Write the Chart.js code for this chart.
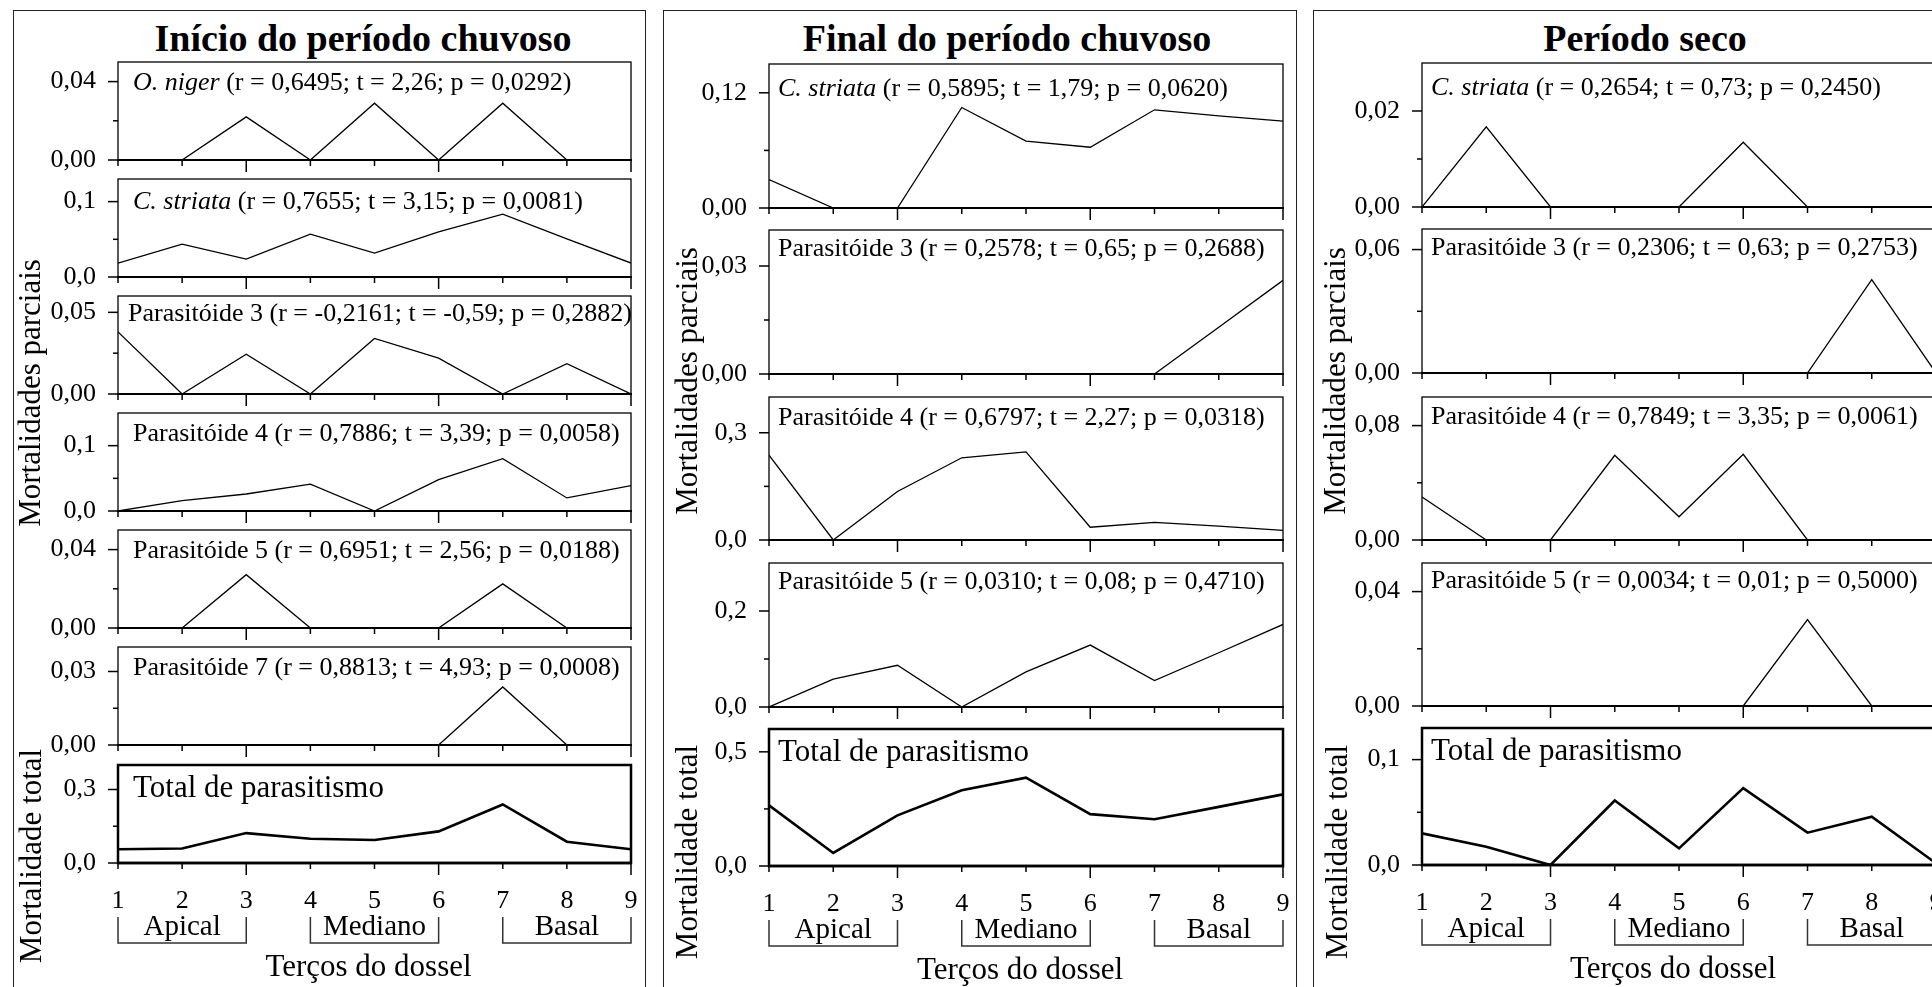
<!DOCTYPE html>
<html><head><meta charset="utf-8">
<script src="https://cdn.jsdelivr.net/npm/chart.js@4.4.1/dist/chart.umd.min.js"></script>
<style>
html,body{margin:0;padding:0;background:#fff;width:1932px;height:987px;overflow:hidden;position:relative;
  font-family:"Liberation Serif","Times New Roman",serif;color:#000}
.box{position:absolute;border:1.5px solid #222;top:10px;height:1000px;box-sizing:border-box}
.t{position:absolute;white-space:nowrap;line-height:1}
canvas{position:absolute}
</style></head><body>
<script>
// Partial and total parasitism along the canopy thirds, three seasons.
const SERIF = "'Liberation Serif', 'Times New Roman', serif";
Chart.defaults.font.family = SERIF; Chart.defaults.color = "#000";

const CANOPY = [1, 2, 3, 4, 5, 6, 7, 8, 9];
const GROUP_NAMES = ["Apical", "Mediano", "Basal"];
const GROUP_FROM = [1, 4, 7], GROUP_TO = [3, 6, 9];

// Início do período chuvoso
const INI_ONIGER   = [0, 0, 0.022, 0, 0.029, 0, 0.029, 0, 0];
const INI_CSTRIATA = [0.0185, 0.0436, 0.0238, 0.0568, 0.0317, 0.060, 0.0833, 0.0507, 0.0185];
const INI_P3       = [0.038, 0, 0.0244, 0, 0.034, 0.022, 0, 0.0185, 0];
const INI_P4       = [0, 0.016, 0.026, 0.041, 0, 0.048, 0.080, 0.020, 0.039];
const INI_P5       = [0, 0, 0.0272, 0, 0, 0, 0.0225, 0, 0];
const INI_P7       = [0, 0, 0, 0, 0, 0, 0.0237, 0, 0];
const INI_TOTAL    = [0.056, 0.059, 0.122, 0.099, 0.094, 0.129, 0.239, 0.087, 0.056];
// Final do período chuvoso
const FIN_CSTRIATA = [0.0296, 0, 0, 0.1047, 0.0696, 0.0633, 0.1023, 0.096, 0.0904];
const FIN_P3       = [0, 0, 0, 0, 0, 0, 0, 0.013, 0.026];
const FIN_P4       = [0.2375, 0, 0.1357, 0.23, 0.2467, 0.0356, 0.0494, 0.039, 0.027];
const FIN_P5       = [0, 0.058, 0.087, 0, 0.073, 0.129, 0.055, 0.113, 0.172];
const FIN_TOTAL    = [0.266, 0.057, 0.222, 0.332, 0.387, 0.227, 0.205, 0.259, 0.314];
// Período seco
const SEC_CSTRIATA = [0, 0.0167, 0, 0, 0, 0.0135, 0, 0, 0];
const SEC_P3       = [0, 0, 0, 0, 0, 0, 0, 0.0454, 0];
const SEC_P4       = [0.0301, 0, 0, 0.0592, 0.0162, 0.0599, 0, 0, 0];
const SEC_P5       = [0, 0, 0, 0, 0, 0, 0.0302, 0, 0];
const SEC_TOTAL    = [0.030, 0.0174, 0, 0.0612, 0.0158, 0.0729, 0.0307, 0.0458, 0.0016];

// y axes: max, tick values, tick labels
const INI_YMAX = [0.05, 0.13, 0.06, 0.15, 0.05, 0.04, 0.4];
const INI_YTICKS = [[0, 0.02, 0.04], [0, 0.05, 0.1], [0, 0.025, 0.05], [0, 0.05, 0.1], [0, 0.02, 0.04], [0, 0.015, 0.03], [0, 0.15, 0.3]];
const INI_YLABELS = [["0,00", "", "0,04"], ["0,0", "", "0,1"], ["0,00", "", "0,05"], ["0,0", "", "0,1"], ["0,00", "", "0,04"], ["0,00", "", "0,03"], ["0,0", "", "0,3"]];
const FIN_YMAX = [0.15, 0.04, 0.4, 0.3, 0.6];
const FIN_YTICKS = [[0, 0.06, 0.12], [0, 0.015, 0.03], [0, 0.15, 0.3], [0, 0.1, 0.2], [0, 0.25, 0.5]];
const FIN_YLABELS = [["0,00", "", "0,12"], ["0,00", "", "0,03"], ["0,0", "", "0,3"], ["0,0", "", "0,2"], ["0,0", "", "0,5"]];
const SEC_YMAX = [0.03, 0.07, 0.1, 0.05, 0.13];
const SEC_YTICKS = [[0, 0.01, 0.02], [0, 0.03, 0.06], [0, 0.04, 0.08], [0, 0.02, 0.04], [0, 0.05, 0.1]];
const SEC_YLABELS = [["0,00", "", "0,02"], ["0,00", "", "0,06"], ["0,00", "", "0,08"], ["0,00", "", "0,04"], ["0,0", "", "0,1"]];

// panel captions: [italic part, plain part]
const INI_NOTES = [["O. niger", " (r = 0,6495; t = 2,26; p = 0,0292)"], ["C. striata", " (r = 0,7655; t = 3,15; p = 0,0081)"],
  ["", "Parasitóide 3 (r = -0,2161; t = -0,59; p = 0,2882)"], ["", "Parasitóide 4 (r = 0,7886; t = 3,39; p = 0,0058)"],
  ["", "Parasitóide 5 (r = 0,6951; t = 2,56; p = 0,0188)"], ["", "Parasitóide 7 (r = 0,8813; t = 4,93; p = 0,0008)"],
  ["", "Total de parasitismo"]];
const FIN_NOTES = [["C. striata", " (r = 0,5895; t = 1,79; p = 0,0620)"], ["", "Parasitóide 3 (r = 0,2578; t = 0,65; p = 0,2688)"],
  ["", "Parasitóide 4 (r = 0,6797; t = 2,27; p = 0,0318)"], ["", "Parasitóide 5 (r = 0,0310; t = 0,08; p = 0,4710)"],
  ["", "Total de parasitismo"]];
const SEC_NOTES = [["C. striata", " (r = 0,2654; t = 0,73; p = 0,2450)"], ["", "Parasitóide 3 (r = 0,2306; t = 0,63; p = 0,2753)"],
  ["", "Parasitóide 4 (r = 0,7849; t = 3,35; p = 0,0061)"], ["", "Parasitóide 5 (r = 0,0034; t = 0,01; p = 0,5000)"],
  ["", "Total de parasitismo"]];
const TITLES = ["Início do período chuvoso", "Final do período chuvoso", "Período seco"];

// page geometry (px)
const COLS = [
  {plotL: 118, plotR: 631, boxL: 12.5, boxW: 633, titleX: 363, yLabX: 28.5, totX: 30, parcY: 392.5, totY: 856, noteDX: 15,
   tops: [62, 179, 296, 413, 530, 647, 765], bots: [160, 277, 394, 511, 628, 745, 863], noteDY: [28.5, 31, 25.5, 28.5, 28.5, 28.5, 31.5]},
  {plotL: 769, plotR: 1283, boxL: 663, boxW: 634, titleX: 1007, yLabX: 686, totX: 686, parcY: 381, totY: 852, noteDX: 9,
   tops: [64, 230, 397, 563, 729], bots: [208, 374, 540, 707, 866], noteDY: [32.5, 26.5, 28.5, 26.5, 31.5]},
  {plotL: 1422, plotR: 1936, boxL: 1313, boxW: 800, titleX: 1645, yLabX: 1334, totX: 1336, parcY: 381, totY: 852, noteDX: 9,
   tops: [63, 229, 397, 563, 728], bots: [207, 373, 540, 706, 865], noteDY: [32.5, 26.5, 27.5, 25.5, 31.5]},
];
const SERIES = [[INI_ONIGER, INI_CSTRIATA, INI_P3, INI_P4, INI_P5, INI_P7, INI_TOTAL],
                [FIN_CSTRIATA, FIN_P3, FIN_P4, FIN_P5, FIN_TOTAL],
                [SEC_CSTRIATA, SEC_P3, SEC_P4, SEC_P5, SEC_TOTAL]];
const YMAX = [INI_YMAX, FIN_YMAX, SEC_YMAX], YTICKS = [INI_YTICKS, FIN_YTICKS, SEC_YTICKS];
const YLABELS = [INI_YLABELS, FIN_YLABELS, SEC_YLABELS], NOTES = [INI_NOTES, FIN_NOTES, SEC_NOTES];

function addText(html, x, base, size, st) {
  const d = document.createElement("div"); d.className = "t"; d.innerHTML = html;
  d.style.left = x + "px"; d.style.top = (base - 0.8375 * size) + "px"; d.style.fontSize = size + "px";
  if (st) Object.assign(d.style, st);
  document.body.appendChild(d); return d;
}
function vText(s, cx, cy, size) {
  const d = document.createElement("div"); d.className = "t"; d.textContent = s;
  Object.assign(d.style, {left: cx + "px", top: cy + "px", fontSize: size + "px", transform: "translate(-50%,-50%) rotate(-90deg)"});
  document.body.appendChild(d);
}
const seg = (ctx, x0, y0, x1, y1) => { ctx.beginPath(); ctx.moveTo(x0, y0); ctx.lineTo(x1, y1); ctx.stroke(); };

// box, tick marks and canopy brackets, all placed through the chart scales
const frame = {
  id: "frame",
  afterDraw(chart) {
    const {ctx, chartArea: a, scales: {x, y}} = chart, tot = chart.options.plugins.frame.total;
    ctx.save(); ctx.strokeStyle = "#000";
    ctx.lineWidth = tot ? 2.5 : 1.3;
    ctx.strokeRect(a.left, a.top, a.right - a.left, a.bottom - a.top);
    ctx.lineWidth = tot ? 2.5 : 2; seg(ctx, a.left - 1, a.bottom, a.right + 1, a.bottom);
    ctx.lineWidth = 1.5;
    y.ticks.forEach((t, i) => { const py = y.getPixelForValue(t.value); seg(ctx, a.left - (i % 2 ? 5 : 10), py, a.left, py); });
    x.ticks.forEach(t => { const px = x.getPixelForValue(t.value); seg(ctx, px, a.bottom, px, a.bottom + (t.value % 3 === 0 ? 12 : 6)); });
    if (tot) {
      ctx.strokeStyle = "#333"; ctx.lineWidth = 1.5;
      ctx.font = "29px " + SERIF; ctx.fillStyle = "#000"; ctx.textAlign = "center"; ctx.textBaseline = "alphabetic";
      GROUP_NAMES.forEach((g, k) => {
        const x0 = x.getPixelForValue(GROUP_FROM[k]), x1 = x.getPixelForValue(GROUP_TO[k]);
        const yt = a.bottom + 54, yb = a.bottom + 80;
        ctx.beginPath(); ctx.moveTo(x0, yt); ctx.lineTo(x0, yb); ctx.lineTo(x1, yb); ctx.lineTo(x1, yt); ctx.stroke();
        ctx.fillText(g, (x0 + x1) / 2, a.bottom + 72);
      });
    }
    ctx.restore();
  }
};

function panel(col, k, c) {
  const total = k === SERIES[c].length - 1;
  const top = col.tops[k], bot = col.bots[k];
  const YW = 120, PT = 20, PR = 14, XB = total ? 1000 - bot : 20;
  const W = YW + (col.plotR - col.plotL) + PR, H = PT + (bot - top) + XB;
  const cv = document.createElement("canvas");
  cv.width = W; cv.height = H;
  Object.assign(cv.style, {left: (col.plotL - YW) + "px", top: (top - PT) + "px", width: W + "px", height: H + "px"});
  document.body.appendChild(cv);
  const vals = SERIES[c][k], ticks = YTICKS[c][k], labels = YLABELS[c][k];
  new Chart(cv, {
    type: "line",
    data: {datasets: [{data: CANOPY.map((v, i) => ({x: v, y: vals[i]})), borderColor: "#000",
      borderWidth: total ? 2.6 : 1.3, pointRadius: 0, tension: 0, fill: false}]},
    options: {
      responsive: false, animation: false, devicePixelRatio: 1,
      layout: {padding: {top: PT, right: PR, left: 0, bottom: 0}},
      plugins: {legend: {display: false}, tooltip: {enabled: false}, frame: {total}},
      scales: {
        x: {type: "linear", min: 1, max: 9, grid: {display: false, drawTicks: false}, border: {display: false},
            afterBuildTicks: s => { s.ticks = CANOPY.map(v => ({value: v})); },
            ticks: {display: total, font: {size: 26}, color: "#000", padding: 23, autoSkip: false, maxRotation: 0},
            afterFit: s => { s.height = XB; s.paddingLeft = 0; s.paddingRight = 0; }},
        y: {min: 0, max: YMAX[c][k], grid: {display: false, drawTicks: false}, border: {display: false},
            afterBuildTicks: s => { s.ticks = ticks.map(v => ({value: v})); },
            ticks: {font: {size: 26}, color: "#000", padding: 22, callback: (v, i) => labels[i]},
            afterFit: s => { s.width = YW; s.paddingTop = 0; s.paddingBottom = 0; }}
      }
    },
    plugins: [frame]
  });
  const n = NOTES[c][k], fs = total ? 31 : 26;
  addText((n[0] ? "<i>" + n[0] + "</i>" : "") + n[1], col.plotL + (c === 0 && k === 2 ? 10 : col.noteDX), top + col.noteDY[k], fs);
}

COLS.forEach((col, c) => {
  const b = document.createElement("div"); b.className = "box";
  b.style.left = col.boxL + "px"; b.style.width = col.boxW + "px";
  document.body.appendChild(b);
  addText("<b>" + TITLES[c] + "</b>", col.titleX, 51, 38, {transform: "translateX(-50%)"});
  SERIES[c].forEach((_, k) => panel(col, k, c));
  vText("Mortalidades parciais", col.yLabX, col.parcY, 31);
  vText("Mortalidade total", col.totX, col.totY, 31);
  const last = col.bots[col.bots.length - 1];
  addText("Terços do dossel", (col.plotL + col.plotR) / 2 - 6, last + 113, 31, {transform: "translateX(-50%)"});
});
</script>
</body></html>
